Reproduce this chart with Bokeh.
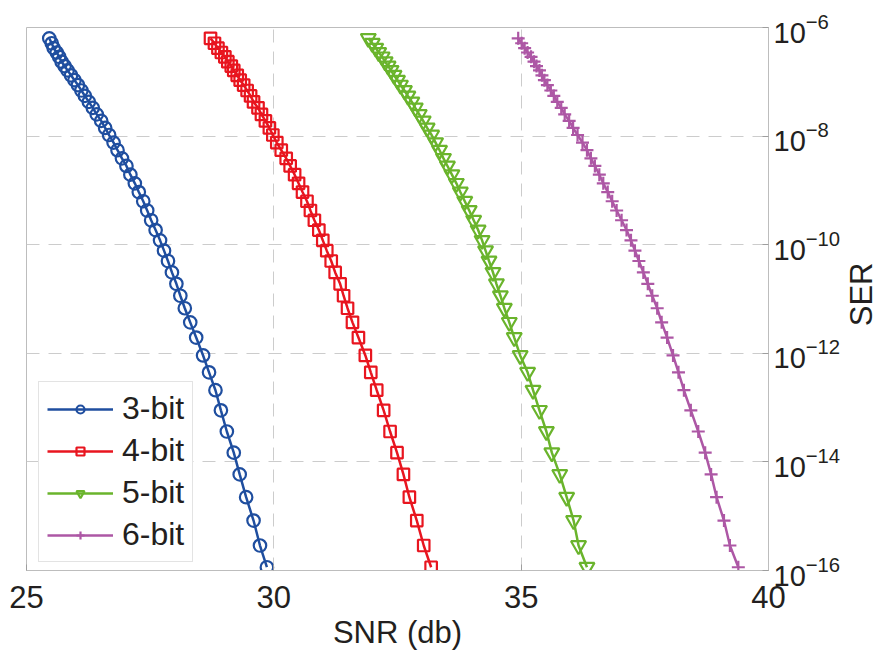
from bokeh.plotting import figure
from bokeh.layouts import row
from bokeh.models import FixedTicker, Legend, LegendItem, Range1d
from bokeh.core.properties import value
from bokeh.embed import file_html
from bokeh.resources import INLINE

# shared SER levels (log10 of SER)
ser_exp = [-6.20, -6.29, -6.38, -6.46, -6.54, -6.63, -6.71, -6.79, -6.88, -6.97,
           -7.06, -7.16, -7.26, -7.37, -7.48, -7.60, -7.72, -7.85, -7.98, -8.12,
           -8.26, -8.41, -8.55, -8.71, -8.87, -9.03, -9.20, -9.37, -9.55, -9.73,
           -9.92, -10.11, -10.30, -10.51, -10.72, -10.94, -11.17, -11.43, -11.71, -12.04,
           -12.35, -12.68, -13.05, -13.44, -13.83, -14.23, -14.65, -15.08, -15.54, -15.94]

snr_3bit = [25.46, 25.51, 25.55, 25.61, 25.66, 25.71, 25.77, 25.83, 25.90, 25.97,
            26.04, 26.11, 26.18, 26.26, 26.34, 26.42, 26.51, 26.59, 26.67, 26.76,
            26.84, 26.93, 27.02, 27.10, 27.19, 27.27, 27.36, 27.44, 27.52, 27.61,
            27.70, 27.78, 27.86, 27.94, 28.03, 28.11, 28.20, 28.31, 28.43, 28.57,
            28.69, 28.82, 28.93, 29.05, 29.19, 29.31, 29.44, 29.59, 29.72, 29.86]

snr_4bit = [28.72, 28.80, 28.87, 28.94, 29.01, 29.07, 29.14, 29.19, 29.26, 29.32,
            29.39, 29.46, 29.53, 29.59, 29.68, 29.75, 29.83, 29.91, 29.98, 30.06,
            30.15, 30.25, 30.33, 30.42, 30.50, 30.58, 30.67, 30.74, 30.82, 30.91,
            30.99, 31.07, 31.16, 31.24, 31.34, 31.41, 31.49, 31.59, 31.71, 31.85,
            31.96, 32.08, 32.22, 32.35, 32.49, 32.62, 32.74, 32.89, 33.03, 33.18]

snr_5bit = [31.91, 31.99, 32.06, 32.12, 32.19, 32.25, 32.31, 32.37, 32.43, 32.50,
            32.56, 32.64, 32.71, 32.79, 32.86, 32.94, 33.02, 33.10, 33.19, 33.27,
            33.35, 33.43, 33.51, 33.60, 33.69, 33.77, 33.86, 33.95, 34.04, 34.13,
            34.21, 34.28, 34.35, 34.43, 34.50, 34.58, 34.66, 34.76, 34.86, 34.98,
            35.13, 35.24, 35.37, 35.51, 35.62, 35.78, 35.92, 36.06, 36.16, 36.33]

snr_6bit = [34.94, 35.01, 35.07, 35.13, 35.20, 35.26, 35.31, 35.37, 35.42, 35.47,
            35.53, 35.60, 35.66, 35.73, 35.81, 35.88, 35.97, 36.05, 36.14, 36.24,
            36.33, 36.41, 36.49, 36.58, 36.66, 36.75, 36.84, 36.93, 37.03, 37.13,
            37.22, 37.30, 37.38, 37.47, 37.56, 37.65, 37.75, 37.84, 37.95, 38.07,
            38.18, 38.29, 38.43, 38.58, 38.72, 38.84, 38.95, 39.10, 39.22, 39.39]

series_labels = ["3-bit", "4-bit", "5-bit", "6-bit"]
x_ticks = [25, 30, 35, 40]
y_ticks = [1e-16, 1e-14, 1e-12, 1e-10, 1e-8, 1e-6]
y_title = "SER"
x_title = "SNR (db)"

ser = [10.0 ** e for e in ser_exp]

FONT = "Liberation Sans"
TXT = "#231f20"

p = figure(width=843, height=653, x_range=(25, 40), y_range=(1e-16, 1e-6),
           y_axis_type="log", y_axis_location="right",
           output_backend="svg", toolbar_location=None,
           min_border_left=26, min_border_top=27, min_border_right=75, min_border_bottom=83)

p.background_fill_color = "white"
p.border_fill_color = "white"
p.outline_line_color = "#bdbdbd"
p.outline_line_width = 1

p.xaxis.ticker = FixedTicker(ticks=x_ticks)
p.yaxis.ticker = FixedTicker(ticks=y_ticks)
p.xaxis.axis_label = x_title

for ax in (p.xaxis, p.yaxis):
    ax.axis_line_color = "#bdbdbd"
    ax.major_tick_line_color = "#9e9e9e"
    ax.major_tick_in = 6
    ax.major_tick_out = 0
    ax.minor_tick_line_color = None
    ax.major_label_text_font = FONT
    ax.major_label_text_color = TXT
    ax.axis_label_text_font = FONT
    ax.axis_label_text_font_size = "31px"
    ax.axis_label_text_font_style = "normal"
    ax.axis_label_text_color = TXT

p.xaxis.major_label_text_font_size = "31px"
p.yaxis.major_label_text_font_size = "29px"
p.xaxis.major_label_standoff = 15
p.xaxis.axis_label_standoff = 4
p.yaxis.major_label_standoff = 5

for g in (p.xgrid, p.ygrid):
    g.grid_line_color = "#cccccc"
    g.grid_line_dash = "13 9"
    g.grid_line_width = 1

colors = ["#1f4e9f", "#e8151f", "#6ab42c", "#ad57a5"]
markers = ["circle", "square", "inverted_triangle", "cross"]
sizes = [12.5, 11.5, 15, 13]
xs = [snr_3bit, snr_4bit, snr_5bit, snr_6bit]

items = []
for lab, xv, c, m, s in zip(series_labels, xs, colors, markers, sizes):
    rl = p.line(xv, ser, line_color=c, line_width=2.5)
    rs = p.scatter(xv, ser, marker=m, size=s, line_color=c, fill_color=None, line_width=2.2)
    items.append(LegendItem(label=lab, renderers=[rl, rs]))

legend = Legend(items=items, location=(12, 8), margin=0, padding=8, spacing=5,
                glyph_width=66, glyph_height=20, label_standoff=9,
                label_text_font=FONT, label_text_font_size="32px", label_text_color=TXT,
                border_line_color="#c8c8c8", border_line_width=1,
                background_fill_color="white", background_fill_alpha=1.0)
p.add_layout(legend)

# narrow strip on the right carrying the y-axis title, reading bottom-to-top
t = figure(width=39, height=653, x_range=Range1d(0, 39), y_range=Range1d(0, 653),
           output_backend="svg", toolbar_location=None,
           min_border=0, min_border_left=0, min_border_right=0,
           min_border_top=0, min_border_bottom=0)
t.axis.visible = False
t.grid.visible = False
t.outline_line_color = None
t.background_fill_color = "white"
t.border_fill_color = "white"
t.text(x=[18], y=[332], text=[y_title], angle=90, angle_units="deg",
       text_align="center", text_baseline="middle",
       text_font=value(FONT), text_font_size="31px", text_color=TXT)

layout = row(p, t)
open("out.html", "w").write(file_html(layout, INLINE))
